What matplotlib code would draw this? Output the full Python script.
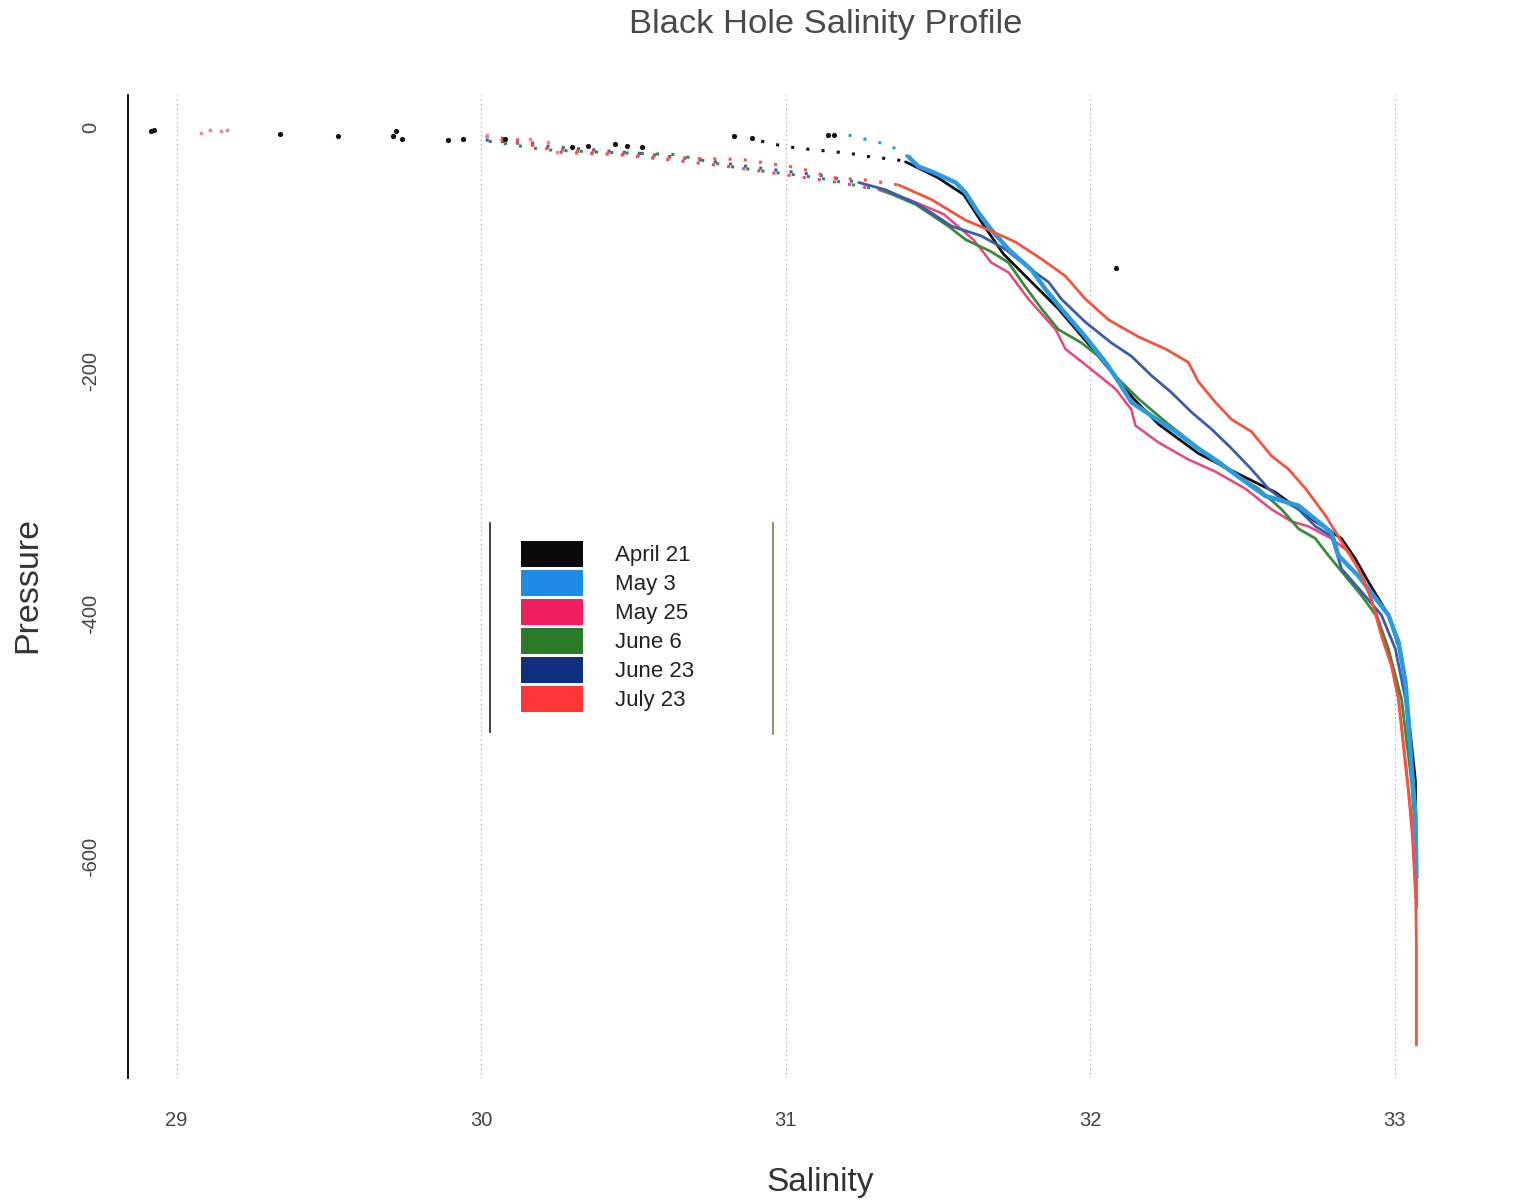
import matplotlib
matplotlib.use("Agg")
import matplotlib.pyplot as plt
from matplotlib.patches import Patch
from matplotlib.lines import Line2D

# Values
dates = ["April 21", "May 3", "May 25", "June 6", "June 23", "July 23"]
line_colors = ["#111111", "#2a9be0", "#e8457a", "#3a8a3a", "#3a5dab", "#f2553f"]
legend_colors = ["#0a0a0a", "#1e8ce6", "#f01e5e", "#2a7a2a", "#10307f", "#ff3535"]

# isolated surface readings
apr21_dot_sal = [28.915, 28.925, 29.34, 29.53, 29.71, 29.72, 29.74, 29.89, 29.94, 30.08,
                 30.30, 30.35, 30.44, 30.48, 30.53, 30.83, 30.89, 31.14, 31.16, 32.084]
apr21_dot_pres = [-2.5, -2, -5, -7, -7, -3, -9, -10, -9, -9,
                  -16, -15, -13, -15, -16, -7, -8, -6, -6, -115]
may25_dot_sal = [29.08, 29.11, 29.145, 29.165, 30.02, 30.16, 30.22, 30.25]
may25_dot_pres = [-4, -2, -3, -2, -6, -9, -12, -20]

# near-surface (sparse) part of each cast
apr21_top_sal = [30.92, 30.99, 31.05, 31.13, 31.21, 31.28, 31.36, 31.394]
apr21_top_pres = [-11, -15, -17, -19, -21, -24, -26, -28]
may3_top_sal = [31.207, 31.27, 31.34, 31.404]
may3_top_pres = [-6, -10, -14, -24]
may25_top_sal = [30.015, 30.156, 30.245, 30.45, 30.68, 30.846, 31.01, 31.174, 31.305]
may25_top_pres = [-7, -11, -20, -22, -28, -33, -39, -45, -51]
jun6_top_sal = [30.025, 30.205, 30.386, 30.639, 30.823, 30.934, 31.043, 31.151, 31.24, 31.315]
jun6_top_pres = [-11, -18, -20, -22, -32, -36, -39, -43, -48, -51]
jun23_top_sal = [30.015, 30.255, 30.52, 30.71, 30.91, 31.11, 31.24]
jun23_top_pres = [-10, -16, -21, -26, -33, -39, -45]
jul23_top_sal = [30.015, 30.245, 30.435, 30.65, 30.855, 31.043, 31.151, 31.263, 31.371]
jul23_top_pres = [-7, -18, -21, -25, -26, -33, -41, -43, -47]

# continuous part of each cast
apr21_sal = [31.394, 31.50, 31.585, 31.65, 31.716, 31.80, 31.896, 31.995, 32.077, 32.143,
             32.225, 32.356, 32.488, 32.609, 32.74, 32.826, 32.872, 32.915, 32.98, 33.023,
             33.046, 33.069, 33.07]
apr21_pres = [-28, -41, -55, -80, -104, -125, -149, -178, -203, -223,
              -244, -268, -285, -300, -324, -338, -355, -374, -401, -434,
              -484, -538, -609]
may3_sal = [31.404, 31.437, 31.48, 31.558, 31.59, 31.634, 31.676, 31.732, 31.808, 31.854,
            31.906, 31.985, 32.051, 32.094, 32.136, 32.202, 32.281, 32.356, 32.422, 32.497,
            32.576, 32.685, 32.793, 32.816, 32.882, 32.98, 33.013, 33.036, 33.046, 33.056,
            33.069, 33.072]
may3_pres = [-24, -32, -36, -45, -53, -70, -84, -100, -117, -133,
             -149, -172, -193, -209, -226, -237, -250, -264, -275, -289,
             -303, -311, -333, -352, -369, -401, -423, -456, -488, -525,
             -566, -617]
may25_sal = [31.305, 31.404, 31.519, 31.617, 31.676, 31.732, 31.798, 31.887, 31.919, 32.005,
             32.084, 32.136, 32.149, 32.225, 32.323, 32.412, 32.51, 32.596, 32.662, 32.717,
             32.793, 32.849, 32.898, 32.941, 32.98, 33.013, 33.039, 33.059, 33.069]
may25_pres = [-51, -59, -71, -92, -111, -119, -141, -166, -182, -199,
              -215, -232, -245, -259, -273, -283, -297, -314, -324, -328,
              -338, -349, -371, -400, -429, -470, -527, -585, -634]
jun6_sal = [31.315, 31.427, 31.535, 31.591, 31.676, 31.732, 31.788, 31.841, 31.896, 31.972,
            32.028, 32.094, 32.159, 32.248, 32.333, 32.412, 32.488, 32.553, 32.629, 32.685,
            32.74, 32.783, 32.839, 32.892, 32.938, 32.98, 33.023, 33.056, 33.072, 33.072]
jun6_pres = [-51, -63, -81, -92, -102, -111, -131, -149, -166, -177,
             -188, -207, -223, -242, -259, -275, -287, -297, -314, -330,
             -338, -352, -369, -385, -401, -429, -470, -538, -593, -642]
jun23_sal = [31.24, 31.328, 31.427, 31.479, 31.545, 31.643, 31.722, 31.808, 31.864, 31.906,
             31.985, 32.07, 32.136, 32.202, 32.268, 32.333, 32.399, 32.465, 32.53, 32.586,
             32.642, 32.685, 32.74, 32.793, 32.826, 32.882, 32.957, 33.003, 33.036, 33.056,
             33.069, 33.072]
jun23_pres = [-45, -51, -62, -70, -81, -89, -100, -117, -127, -141,
              -160, -177, -188, -204, -218, -234, -248, -264, -281, -297,
              -308, -314, -328, -336, -363, -379, -401, -429, -470, -525,
              -566, -609]
jul23_sal = [31.371, 31.479, 31.591, 31.667, 31.755, 31.841, 31.919, 31.985, 32.061, 32.159,
             32.248, 32.323, 32.356, 32.412, 32.465, 32.53, 32.596, 32.652, 32.708, 32.773,
             32.839, 32.882, 32.924, 32.957, 32.99, 33.013, 33.036, 33.056, 33.069, 33.072,
             33.072]
jul23_pres = [-47, -59, -76, -84, -94, -108, -122, -141, -158, -172,
              -182, -193, -209, -226, -240, -250, -270, -281, -297, -319,
              -346, -363, -388, -418, -443, -470, -525, -566, -620, -675,
              -755]

tops = [(apr21_top_sal, apr21_top_pres), (may3_top_sal, may3_top_pres),
        (may25_top_sal, may25_top_pres), (jun6_top_sal, jun6_top_pres),
        (jun23_top_sal, jun23_top_pres), (jul23_top_sal, jul23_top_pres)]
bodies = [(apr21_sal, apr21_pres), (may3_sal, may3_pres), (may25_sal, may25_pres),
          (jun6_sal, jun6_pres), (jun23_sal, jun23_pres), (jul23_sal, jul23_pres)]
widths = [2.0, 3.2, 1.8, 2.0, 2.0, 2.0]
draw_order = [0, 2, 3, 4, 1, 5]

fig = plt.figure(figsize=(15.18, 12.04), dpi=100)
ax = fig.add_axes([0.0843, 0.1047, 0.8544, 0.8164])

for xv in [29, 30, 31, 32, 33]:
    ax.axvline(xv, color="#999999", lw=0.8, ls=(0, (1, 3)), zorder=0)

for i in draw_order:
    ts, tp = tops[i]
    ax.plot(ts, tp, color=line_colors[i], lw=2.2, ls=(0, (1, 4)), zorder=2)
    bs, bp = bodies[i]
    ax.plot(bs, bp, color=line_colors[i], lw=widths[i], solid_capstyle="round", zorder=3)

ax.scatter(apr21_dot_sal, apr21_dot_pres, s=14, color="#111111", zorder=4, lw=0)
ax.scatter(may25_dot_sal, may25_dot_pres, s=8, color="#f08a8a", zorder=4, lw=0)

ax.set_xlim(28.84, 33.10)
ax.set_ylim(-782, 27)
ax.set_xticks([29, 30, 31, 32, 33])
ax.set_yticks([0, -200, -400, -600])
ax.set_yticklabels(["0", "-200", "-400", "-600"], rotation=90, va="center")
ax.tick_params(axis="both", length=0, labelsize=14.5, colors="#444444")
ax.tick_params(axis="x", pad=24)
ax.tick_params(axis="y", pad=20)
for lab in ax.get_xticklabels() + ax.get_yticklabels():
    lab.set_family("Liberation Sans")

for side in ["top", "right", "bottom"]:
    ax.spines[side].set_visible(False)
ax.spines["left"].set_linewidth(1.3)

handles = [Patch(facecolor=c, edgecolor="none") for c in legend_colors]
leg = ax.legend(handles, dates, loc="center", bbox_to_anchor=(0.3697, 0.4595),
                frameon=False, handlelength=2.8, handleheight=1.42, handletextpad=1.45,
                labelspacing=0.14, borderpad=0.5,
                prop={"family": "Liberation Sans", "size": 16})
for t in leg.get_texts():
    t.set_color("#222222")
# legend box side rules
ax.add_line(Line2D([0.2792, 0.2792], [0.352, 0.565], transform=ax.transAxes,
                   color="#333333", lw=1.3))
ax.add_line(Line2D([0.4973, 0.4973], [0.350, 0.565], transform=ax.transAxes,
                   color="#8a8a50", lw=1.3))

fig.text(826 / 1518, 1 - 24 / 1204, "Black Hole Salinity Profile", ha="center", va="center",
         fontsize=24.8, color="#4a4a4a", family="Liberation Sans")
fig.text(820 / 1518, 1 - 1183 / 1204, "Salinity", ha="center", va="center",
         fontsize=24, color="#333333", family="Liberation Sans")
fig.text(28 / 1518, 1 - 585 / 1204, "Pressure", ha="center", va="center", rotation=90,
         fontsize=24.5, color="#333333", family="Liberation Sans")

fig.savefig("out.png", dpi=100)
